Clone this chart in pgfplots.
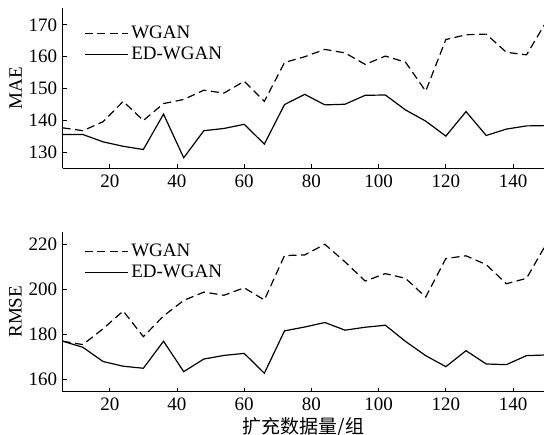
\documentclass[border=0pt]{standalone}
\usepackage{pgfplots}
\usepackage{pgfplotstable}
\pgfplotsset{compat=1.18}
\usepackage{fontspec}
\setmainfont{Liberation Serif}
\newfontfamily\cjk{Noto Sans CJK SC}

\pgfplotstableread{
x wgan ed
6 137.7 135.6
12 136.8 135.6
18 139.6 133.3
24 146.0 131.9
30 140.0 130.9
36 145.3 142.0
42 146.6 128.3
48 149.5 136.8
54 148.6 137.5
60 152.3 138.8
66 146.0 132.6
72 158.2 145.0
78 160.0 148.2
84 162.3 144.9
90 161.2 145.1
96 157.6 147.9
102 160.2 148.0
108 158.3 143.3
114 149.2 139.8
120 165.4 135.1
126 166.9 142.8
132 167.1 135.3
138 161.4 137.3
144 160.6 138.3
150 171.2 138.4
}\maetable

\pgfplotstableread{
x wgan ed
6 177.0 177.0
12 175.5 174.3
18 182.5 168.0
24 190.4 165.9
30 179.0 165.0
36 188.2 177.0
42 195.1 163.5
48 198.8 169.1
54 197.4 170.7
60 200.7 171.6
66 195.3 162.8
72 215.0 181.6
78 215.3 183.3
84 220.0 185.3
90 212.2 181.9
96 203.7 183.2
102 207.0 184.1
108 204.9 176.9
114 196.6 170.6
120 213.7 165.7
126 214.9 172.8
132 211.0 166.9
138 202.5 166.6
144 204.9 170.6
150 220.5 170.9
}\rmsetable

\begin{document}
\fontsize{19}{22}\selectfont
\begin{tikzpicture}
\useasboundingbox (0,0) rectangle (544pt,-435pt);
\pgfplotsset{
 mystyle/.style={
  scale only axis, width=481.3pt, height=160pt,
  xmin=6, xmax=149.2,
  axis x line*=bottom, axis y line*=left,
  axis line style={-, line width=1.1pt},
  tick align=inside, major tick length=4pt,
  every tick/.style={black, line width=0.9pt},
  xtick={20,40,...,140},
  /pgf/number format/assume math mode=true,
  tick label style={font=\fontsize{19}{22}\selectfont},
  yticklabel style={xshift=1pt},
  label style={font=\fontsize{19}{22}\selectfont},
  ylabel style={at={(axis description cs:-0.098,0.5)}, anchor=center, rotate=0},
  legend cell align=left,
  legend style={draw=none, fill=none, font=\fontsize{19}{22}\selectfont,
    anchor=north west, inner sep=0pt, row sep=2pt, column sep=2pt,
    nodes={inner sep=1pt, text height=13.5pt, text depth=3.5pt}},
  legend image code/.code={\draw[##1] (0pt,0pt) -- (43pt,0pt);},
  wg/.style={black, line width=1.2pt, dash pattern=on 8pt off 4.5pt},
  edw/.style={black, line width=1.2pt},
 }
}
\begin{axis}[mystyle, at={(62.7pt,-8.3pt)}, anchor=north west,
  ymin=125, ymax=175.2, ytick={130,140,...,170}, ylabel={MAE},
  legend style={at={(axis description cs:0.044,0.905)}}]
\addplot[wg] table[x=x,y=wgan]{\maetable};
\addlegendentry{WGAN}
\addplot[edw] table[x=x,y=ed]{\maetable};
\addlegendentry{ED-WGAN}
\end{axis}
\begin{axis}[mystyle, at={(62.7pt,-231.7pt)}, anchor=north west,
  ymin=154.6, ymax=225.6, ytick={160,180,...,220}, ylabel={RMSE},
  xlabel={{\cjk 扩充数据量/组}},
  xlabel style={yshift=6.5pt},
  legend style={at={(axis description cs:0.044,0.935)}}]
\addplot[wg] table[x=x,y=wgan]{\rmsetable};
\addlegendentry{WGAN}
\addplot[edw] table[x=x,y=ed]{\rmsetable};
\addlegendentry{ED-WGAN}
\end{axis}
\end{tikzpicture}
\end{document}
